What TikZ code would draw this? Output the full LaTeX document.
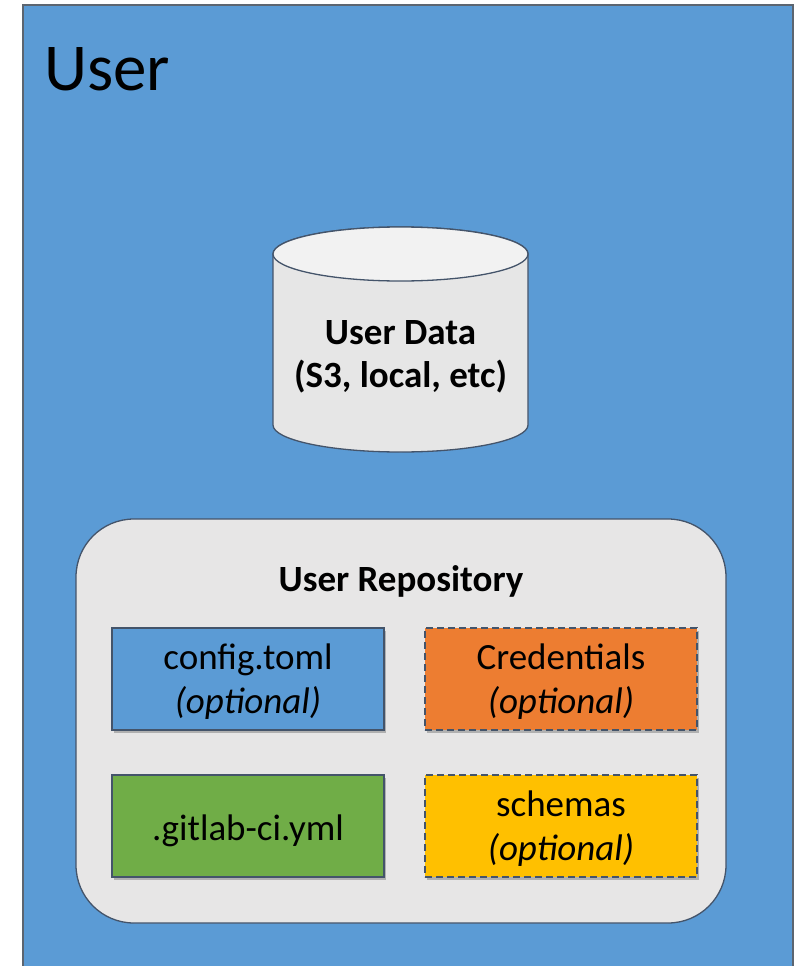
\documentclass[tikz,border=0pt]{standalone}
\usepackage{fontspec}
\setmainfont{Carlito}
\usetikzlibrary{shadows}
\definecolor{userblue}{HTML}{5B9BD5}
\definecolor{frame}{HTML}{5C6570}
\definecolor{edge}{HTML}{44546A}
\definecolor{repofill}{HTML}{E7E6E6}
\definecolor{cylbody}{HTML}{E6E6E6}
\definecolor{cyltop}{HTML}{F2F2F2}
\definecolor{orangefill}{HTML}{ED7D31}
\definecolor{greenfill}{HTML}{70AD47}
\definecolor{yellowfill}{HTML}{FFC000}
% two centred lines; the node's base is the first line's baseline
\newcommand{\twolines}[2]{\begin{tabular}[t]{@{}c@{}}#1\\#2\end{tabular}}
\tikzset{
  x=1pt, y=1pt,
  item/.style={draw=edge, line width=1.3pt, minimum width=272pt, minimum height=102pt,
    inner sep=0pt,
    drop shadow={shadow xshift=2pt, shadow yshift=-3pt, opacity=0.35, fill=black!70}},
  optitem/.style={item, dash pattern=on 7pt off 4pt},
  itemtext/.style={anchor=base, inner sep=0pt, font=\fontsize{37}{44.5}\selectfont},
  boldtext/.style={anchor=base, inner sep=0pt, font=\bfseries\fontsize{37}{43}\selectfont},
}
\begin{document}
\begin{tikzpicture}
\useasboundingbox (0,0) rectangle (797,-966);
\clip (0,0) rectangle (797,-966);
% outer user area
\draw[fill=userblue, draw=frame, line width=1.5pt] (23,-5) rectangle (793,-990);
\node[anchor=base west, inner sep=0pt, font=\fontsize{67}{70}\selectfont] (title) at (44,-90) {User};
% data store cylinder
\draw[fill=cylbody, draw=edge, line width=1.3pt]
  (273,-254) -- (273,-425) arc[start angle=180, end angle=360, x radius=127.5, y radius=27]
  -- (528,-254) arc[start angle=0, end angle=180, x radius=127.5, y radius=27] -- cycle;
\draw[fill=cyltop, draw=edge, line width=1.3pt] (400.5,-254) ellipse[x radius=127.5, y radius=27];
\node[boldtext] (data) at (400.5,-344.3) {\twolines{User Data}{(S3, local, etc)}};
% repository
\draw[fill=repofill, draw=edge, line width=1.3pt, rounded corners=58pt] (76,-519) rectangle (726,-923);
\node[boldtext] (repo) at (401,-591.7) {User Repository};
\node[item, fill=userblue] (config) at (248,-679) {};
\node[optitem, fill=orangefill] (cred) at (561,-679) {};
\node[item, fill=greenfill] (ci) at (248,-826) {};
\node[optitem, fill=yellowfill] (schemas) at (561,-826) {};
\node[itemtext] (configtext) at ([yshift=10pt]config.center) {\twolines{config.toml}{\textit{(optional)}}};
\node[itemtext] (credtext) at ([yshift=10pt]cred.center) {\twolines{Credentials}{\textit{(optional)}}};
\node[itemtext] (citext) at ([yshift=-14pt]ci.center) {.gitlab-ci.yml};
\node[itemtext] (schemastext) at ([yshift=10pt]schemas.center) {\twolines{schemas}{\textit{(optional)}}};
\end{tikzpicture}
\end{document}
